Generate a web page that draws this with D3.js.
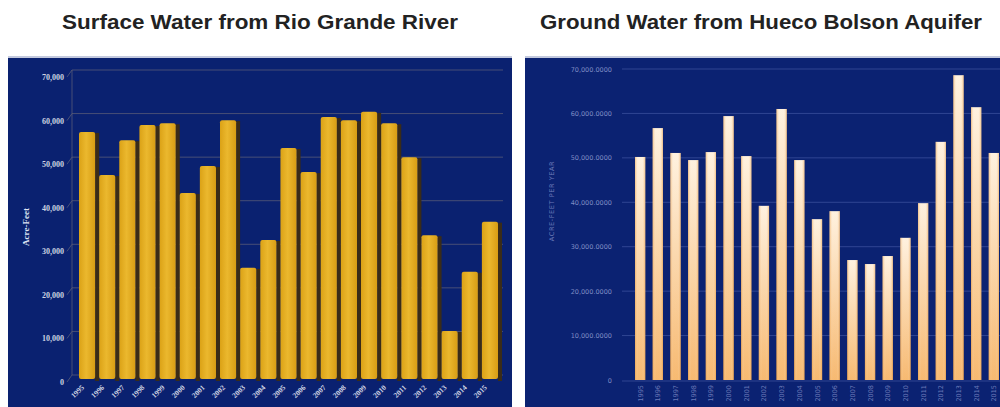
<!DOCTYPE html>
<html>
<head>
<meta charset="utf-8">
<script src="https://cdn.jsdelivr.net/npm/d3@7"></script>
<style>
  html, body { margin: 0; padding: 0; background: #ffffff; }
  svg { display: block; }
</style>
</head>
<body>
<svg id="chart" width="1000" height="407"></svg>
<script>
// Water supply by source, El Paso, acre-feet per year
const years = ["1995","1996","1997","1998","1999","2000","2001","2002","2003","2004",
               "2005","2006","2007","2008","2009","2010","2011","2012","2013","2014","2015"];
const surfaceWater = [57400, 47500, 55500, 59000, 59400, 43400, 49600, 60100, 26200, 32600,
                      53700, 48200, 60800, 60100, 62000, 59400, 51600, 33700, 11700, 25300, 36800];
const groundWater = [50200, 56700, 51100, 49500, 51300, 59400, 50400, 39200, 61000, 49500,
                     36200, 38000, 27000, 26100, 27900, 32000, 39800, 53600, 68600, 61400, 51100];
const yTicks = [0, 10000, 20000, 30000, 40000, 50000, 60000, 70000];
const titles = ["Surface Water from Rio Grande River", "Ground Water from Hueco Bolson Aquifer"];
const yTitles = ["Acre-Feet", "ACRE-FEET PER YEAR"];

const svg = d3.select("#chart");
const navy = "#0a2170";

// ---------- titles ----------
svg.append("text")
  .attr("x", 260).attr("y", 29)
  .attr("text-anchor", "middle")
  .attr("font-family", "Liberation Sans, Arial, sans-serif")
  .attr("font-weight", "bold").attr("font-size", 19.5)
  .attr("textLength", 396).attr("lengthAdjust", "spacingAndGlyphs")
  .attr("fill", "#222")
  .text(titles[0]);
svg.append("text")
  .attr("x", 761).attr("y", 29)
  .attr("text-anchor", "middle")
  .attr("font-family", "Liberation Sans, Arial, sans-serif")
  .attr("font-weight", "bold").attr("font-size", 19.5)
  .attr("textLength", 442).attr("lengthAdjust", "spacingAndGlyphs")
  .attr("fill", "#222")
  .text(titles[1]);

// ---------- panels ----------
svg.append("rect").attr("x", 8).attr("y", 57).attr("width", 504).attr("height", 360).attr("fill", navy);
svg.append("rect").attr("x", 525).attr("y", 57).attr("width", 480).attr("height", 360).attr("fill", "#0b2272");
svg.append("line").attr("x1", 8).attr("x2", 512).attr("y1", 57).attr("y2", 57)
  .attr("stroke", "#c3c9de").attr("stroke-width", 2);
svg.append("line").attr("x1", 525).attr("x2", 1000).attr("y1", 57).attr("y2", 57)
  .attr("stroke", "#c3c9de").attr("stroke-width", 2);

// =====================================================
// Left chart: surface water (3D-style gold columns)
// =====================================================
const xL = d3.scaleBand().domain(years).range([79, 499]).paddingInner(0.15).paddingOuter(0);
const yL = d3.scaleLinear().domain([0, 70000]).range([382, 77]);
const depth = 7;
const wallX = 72;

const gL = svg.append("g");

// back wall gridlines with a short side-wall diagonal
gL.append("g").selectAll("path")
  .data(yTicks)
  .join("path")
  .attr("d", d => `M${wallX - depth + 2},${yL(d)} L${wallX},${yL(d) - depth} L503,${yL(d) - depth}`)
  .attr("fill", "none")
  .attr("stroke", "#5c5f78")
  .attr("stroke-opacity", 0.75)
  .attr("stroke-width", 1);
gL.append("line")
  .attr("x1", wallX).attr("x2", wallX)
  .attr("y1", yL(70000) - depth).attr("y2", yL(0) - depth)
  .attr("stroke", "#5c5f78").attr("stroke-opacity", 0.75);

// y-axis labels
const axL = gL.append("g")
  .attr("transform", "translate(64,0)")
  .call(d3.axisLeft(yL).tickValues(yTicks).tickSize(0).tickPadding(0).tickFormat(d3.format(",")));
axL.select(".domain").remove();
axL.selectAll("text")
  .attr("fill", "#cdd2e2")
  .attr("font-family", "Liberation Serif, Times New Roman, serif")
  .attr("font-weight", "bold")
  .attr("font-size", 8);

// y-axis title
gL.append("text")
  .attr("transform", "translate(29,227) rotate(-90)")
  .attr("text-anchor", "middle")
  .attr("font-family", "Liberation Serif, Times New Roman, serif")
  .attr("font-weight", "bold").attr("font-size", 9)
  .attr("fill", "#dfe4f4")
  .text(yTitles[0]);

// dark side faces
gL.append("g").selectAll("rect")
  .data(years)
  .join("rect")
  .attr("x", (d) => xL(d) + xL.bandwidth() - 1)
  .attr("y", (d, i) => yL(surfaceWater[i]) + 1)
  .attr("width", 4)
  .attr("height", (d, i) => yL(0) - yL(surfaceWater[i]) - 2)
  .attr("fill", "#3a2c18");

// gold front faces
const defs = svg.append("defs");
const gold = defs.append("linearGradient").attr("id", "goldFace").attr("x1", 0).attr("x2", 1).attr("y1", 0).attr("y2", 0);
gold.append("stop").attr("offset", "0%").attr("stop-color", "#dba216");
gold.append("stop").attr("offset", "45%").attr("stop-color", "#ebb82e");
gold.append("stop").attr("offset", "100%").attr("stop-color", "#d89d14");

gL.append("g").selectAll("rect")
  .data(years)
  .join("rect")
  .attr("x", d => xL(d))
  .attr("y", (d, i) => yL(surfaceWater[i]))
  .attr("width", xL.bandwidth() - 1)
  .attr("height", (d, i) => yL(0) - yL(surfaceWater[i]) - 3)
  .attr("rx", 2)
  .attr("fill", "url(#goldFace)");

// x-axis labels, angled
gL.append("g").selectAll("text")
  .data(years)
  .join("text")
  .attr("transform", d => `translate(${xL(d) + xL.bandwidth() / 2 - 3},388) rotate(-45)`)
  .attr("text-anchor", "end")
  .attr("font-family", "Liberation Serif, Times New Roman, serif")
  .attr("font-weight", "bold")
  .attr("font-size", 7.5)
  .attr("fill", "#cdd2e2")
  .text(d => d);

// =====================================================
// Right chart: ground water (peach gradient columns)
// =====================================================
const xR = d3.scaleBand().domain(years).range([635, 999]).paddingInner(0.42).paddingOuter(0);
const yR = d3.scaleLinear().domain([0, 70000]).range([380, 69]);
const gR = svg.append("g");

gR.append("g").selectAll("line")
  .data(yTicks.filter(d => d > 0))
  .join("line")
  .attr("x1", 622).attr("x2", 1000)
  .attr("y1", d => yR(d)).attr("y2", d => yR(d))
  .attr("stroke", "#4a5ea8")
  .attr("stroke-opacity", 0.6);

const fmtR = d3.format(",.4f");
const axR = gR.append("g")
  .attr("transform", "translate(612,0)")
  .call(d3.axisLeft(yR).tickValues(yTicks).tickSize(0).tickPadding(0)
    .tickFormat(d => d === 0 ? "0" : fmtR(d)));
axR.select(".domain").remove();
axR.selectAll("text")
  .attr("fill", "#7f8cc4")
  .attr("font-family", "DejaVu Sans, sans-serif")
  .attr("font-size", 6.5);

gR.append("text")
  .attr("transform", "translate(554,201) rotate(-90)")
  .attr("text-anchor", "middle")
  .attr("font-family", "DejaVu Sans, sans-serif")
  .attr("font-size", 6.5)
  .attr("letter-spacing", 0.6)
  .attr("fill", "#6c7ab8")
  .text(yTitles[1]);

const peach = defs.append("linearGradient").attr("id", "peachFace").attr("x1", 0).attr("x2", 0).attr("y1", 0).attr("y2", 1);
peach.append("stop").attr("offset", "0%").attr("stop-color", "#fff0dc");
peach.append("stop").attr("offset", "100%").attr("stop-color", "#f6b262");
const peachEdge = defs.append("linearGradient").attr("id", "peachEdge").attr("x1", 0).attr("x2", 1).attr("y1", 0).attr("y2", 0);
peachEdge.append("stop").attr("offset", "0%").attr("stop-color", "#e89a40").attr("stop-opacity", 0.55);
peachEdge.append("stop").attr("offset", "30%").attr("stop-color", "#ffffff").attr("stop-opacity", 0.1);
peachEdge.append("stop").attr("offset", "70%").attr("stop-color", "#ffffff").attr("stop-opacity", 0.1);
peachEdge.append("stop").attr("offset", "100%").attr("stop-color", "#e89a40").attr("stop-opacity", 0.55);

const barsR = gR.append("g").selectAll("g")
  .data(years)
  .join("g");
barsR.append("rect")
  .attr("x", d => xR(d))
  .attr("y", (d, i) => yR(groundWater[i]))
  .attr("width", xR.bandwidth())
  .attr("height", (d, i) => yR(0) - yR(groundWater[i]))
  .attr("fill", "url(#peachFace)");
barsR.append("rect")
  .attr("x", d => xR(d))
  .attr("y", (d, i) => yR(groundWater[i]))
  .attr("width", xR.bandwidth())
  .attr("height", (d, i) => yR(0) - yR(groundWater[i]))
  .attr("fill", "url(#peachEdge)");

gR.append("line")
  .attr("x1", 622).attr("x2", 1000)
  .attr("y1", yR(0) + 1).attr("y2", yR(0) + 1)
  .attr("stroke", "#4a5ea8").attr("stroke-opacity", 0.6);

gR.append("g").selectAll("text")
  .data(years)
  .join("text")
  .attr("transform", d => `translate(${xR(d) + xR.bandwidth() / 2 + 2.5},385) rotate(-90)`)
  .attr("text-anchor", "end")
  .attr("font-family", "DejaVu Sans, sans-serif")
  .attr("font-size", 6.5)
  .attr("fill", "#6c7ab8")
  .text(d => d);
</script>
</body>
</html>
